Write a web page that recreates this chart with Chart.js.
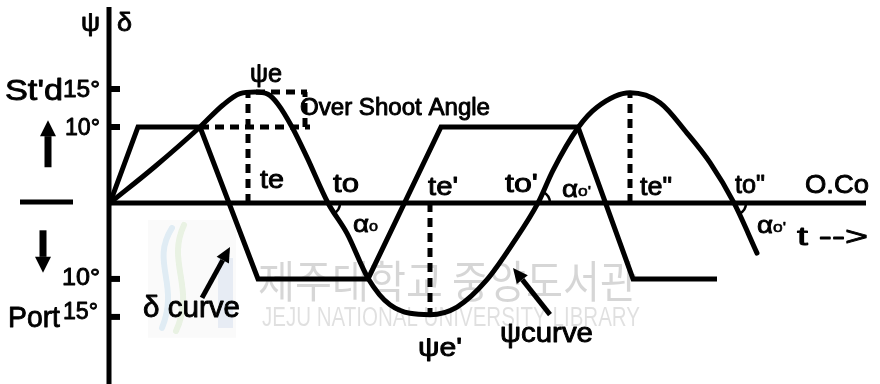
<!DOCTYPE html>
<html>
<head>
<meta charset="utf-8">
<title>Zig-zag test</title>
<script src="https://cdn.jsdelivr.net/npm/chart.js@4.4.1/dist/chart.umd.min.js"></script>
<style>
  html, body { margin: 0; padding: 0; background: #fff; }
  #wrap { width: 880px; height: 384px; }
</style>
</head>
<body>
<div id="wrap"><canvas id="zigzag"></canvas></div>
<script>
// rudder angle δ (deg) against time
var rudderT   = [0, 2.8, 9.0, 14.8, 25.8, 33.1, 46.8, 52.3, 60.7];
var rudderDeg = [0, 10, 10, -10, -10, 10, 10, -10, -10];

// heading ψ (deg) against time
var headingT   = [0, 4.5, 9.0, 11.3, 13.0, 14.5, 15.8, 16.8, 18.2, 19.7, 21.8, 23.7, 25.8, 28.0,
                  32.0, 34.7, 37.7, 40.3, 42.8, 44.3, 46.8, 48.7, 52.0, 55.0, 57.7, 60.0, 62.4, 64.7];
var headingDeg = [0, 4.8, 10.0, 12.9, 14.4, 14.6, 14.3, 13.0, 10.0, 6.0, 0, -4.0, -9.9, -13.4,
                  -14.7, -13.7, -10.1, -5.3, 0, 4.3, 9.9, 12.6, 14.5, 13.2, 9.2, 5.3, 0, -6.6];

// te, te', te'' and the heading reached there
var execT   = [13.8, 32.0, 52.0];
var execDeg = [14.6, -14.7, 14.5];

// to, to', to'' (heading back through the original course)
var crossT = [21.8, 42.8, 62.4];

// first overshoot: rudder setting vs. heading peak
var overshootT   = [9.0, 19.7];
var overshootDeg = [10, 14.6];

var tickDeg    = [15, 10, -10, -15];
var tickLabels = ['15°', '10°', '10°', '15°'];

function pts(xs, ys) {
  return xs.map(function(x, i) { return {x: x, y: ys[i]}; });
}

var FONT = '"Liberation Sans", Arial, Helvetica, sans-serif';

// text fitted to a given width, slightly heavier than the regular face
function label(ctx, str, x, y, size, width) {
  ctx.save();
  ctx.font = size + 'px ' + FONT;
  ctx.textBaseline = 'alphabetic';
  ctx.fillStyle = '#000';
  ctx.strokeStyle = '#000';
  ctx.lineWidth = size > 20 ? 0.9 : 0.6;
  ctx.lineJoin = 'round';
  var w = ctx.measureText(str).width;
  ctx.translate(x, y);
  if (width) ctx.scale(width / w, 1);
  ctx.fillText(str, 0, 0);
  ctx.strokeText(str, 0, 0);
  ctx.restore();
}

function alpha0(ctx, x, y, prime) {
  label(ctx, 'α', x, y, 24, 16);
  label(ctx, 'o' + (prime ? "'" : ''), x + 16, y - 1, 15, prime ? 13 : 9);
}

function arrow(ctx, x0, y0, x1, y1, w, headLen, headHalf) {
  var a = Math.atan2(y1 - y0, x1 - x0);
  var bx = x1 - Math.cos(a) * headLen, by = y1 - Math.sin(a) * headLen;
  ctx.save();
  ctx.strokeStyle = '#000';
  ctx.fillStyle = '#000';
  ctx.lineWidth = w;
  ctx.beginPath();
  ctx.moveTo(x0, y0);
  ctx.lineTo(bx, by);
  ctx.stroke();
  ctx.beginPath();
  ctx.moveTo(x1, y1);
  ctx.lineTo(bx + Math.sin(a) * headHalf, by - Math.cos(a) * headHalf);
  ctx.lineTo(bx - Math.sin(a) * headHalf, by + Math.cos(a) * headHalf);
  ctx.closePath();
  ctx.fill();
  ctx.restore();
}

var decor = {
  id: 'decor',
  beforeDatasetsDraw: function(chart) {
    var ctx = chart.ctx, xs = chart.scales.x, ys = chart.scales.y;
    var x0 = xs.left, y0 = ys.getPixelForValue(0);

    // library watermark
    ctx.save();
    ctx.fillStyle = 'rgba(0,0,0,0.02)';
    ctx.fillRect(x0 + 38, y0 + 17, 88, 118);
    ctx.lineCap = 'round';
    ctx.lineWidth = 6;
    ctx.strokeStyle = 'rgba(120,180,220,0.2)';
    ctx.beginPath();
    ctx.moveTo(x0 + 62, y0 + 25);
    ctx.bezierCurveTo(x0 + 40, y0 + 60, x0 + 70, y0 + 80, x0 + 52, y0 + 125);
    ctx.stroke();
    ctx.strokeStyle = 'rgba(170,210,140,0.22)';
    ctx.beginPath();
    ctx.moveTo(x0 + 74, y0 + 22);
    ctx.bezierCurveTo(x0 + 56, y0 + 60, x0 + 86, y0 + 85, x0 + 66, y0 + 128);
    ctx.stroke();
    ctx.fillStyle = 'rgba(130,160,210,0.16)';
    ctx.fillRect(x0 + 108, y0 + 55, 15, 70);
    ctx.fillStyle = 'rgba(0,0,0,0.16)';
    ctx.font = '44px "Noto Sans CJK KR", sans-serif';
    var kr = '제주대학교 중앙도서관';
    var kw = ctx.measureText(kr).width;
    ctx.translate(x0 + 148, y0 + 95);
    ctx.scale(379 / kw, 1);
    ctx.fillText(kr, 0, 0);
    ctx.restore();
    ctx.save();
    ctx.fillStyle = 'rgba(0,0,0,0.12)';
    ctx.font = '27px ' + FONT;
    var en = 'JEJU NATIONAL UNIVERSITY LIBRARY';
    var ew = ctx.measureText(en).width;
    ctx.translate(x0 + 152, y0 + 123);
    ctx.scale(378 / ew, 1);
    ctx.fillText(en, 0, 0);
    ctx.restore();

    // axes
    ctx.save();
    ctx.strokeStyle = '#000';
    ctx.lineWidth = 5;
    ctx.beginPath();
    ctx.moveTo(x0 - 1, ys.top - 3);
    ctx.lineTo(x0 - 1, ys.bottom + 2);
    ctx.moveTo(x0, y0);
    ctx.lineTo(xs.right, y0);
    ctx.stroke();
    // tick marks
    ctx.lineWidth = 6;
    tickDeg.forEach(function(v) {
      var py = ys.getPixelForValue(v);
      ctx.beginPath();
      ctx.moveTo(x0, py);
      ctx.lineTo(x0 + 10, py);
      ctx.stroke();
    });
    // the neutral dash left of the axis
    ctx.lineWidth = 5;
    ctx.beginPath();
    ctx.moveTo(x0 - 90, y0 - 1);
    ctx.lineTo(x0 - 37, y0 - 1);
    ctx.stroke();
    ctx.restore();
  },
  afterDatasetsDraw: function(chart) {
    var ctx = chart.ctx, xs = chart.scales.x, ys = chart.scales.y;
    var x0 = xs.left, y0 = ys.getPixelForValue(0);
    function P(t, d) { return {x: xs.getPixelForValue(t), y: ys.getPixelForValue(d)}; }
    function at(str, t, d, size, width) {
      var p = P(t, d);
      label(ctx, str, p.x, p.y, size, width);
    }

    // axis titles
    label(ctx, 'ψ', x0 - 29, ys.getPixelForValue(22.6), 26, 19);
    label(ctx, 'δ', x0 + 7, ys.getPixelForValue(22.6), 26, 15);

    // scale labels
    var offs = [8, 8, 6, 2];
    var lefts = [-47, -45, -48, -47];
    var widths = [37, 35, 38, 35];
    tickDeg.forEach(function(v, i) {
      label(ctx, tickLabels[i], x0 + lefts[i], ys.getPixelForValue(v) + offs[i], 24, widths[i]);
    });
    label(ctx, "St'd", x0 - 105, ys.getPixelForValue(15) + 11, 30, 58);
    label(ctx, 'Port', x0 - 102, ys.getPixelForValue(-15) + 10, 30, 52);

    // starboard / port arrows
    arrow(ctx, x0 - 62, ys.getPixelForValue(4.7), x0 - 62, ys.getPixelForValue(10.9), 7, 16, 8);
    arrow(ctx, x0 - 67, ys.getPixelForValue(-3.6), x0 - 67, ys.getPixelForValue(-9.2), 7, 16, 8);

    // event labels
    at('ψe', 14.0, 15.9, 25, 32);
    at('Over Shoot Angle', 19.0, 11.6, 23, 190);
    at('te', 15.0, 2.0, 26, 24);
    at('to', 22.3, 1.45, 26, 26);
    at("te'", 31.8, 1.05, 26, 30);
    at("to'", 39.5, 1.45, 26, 33);
    at('te"', 53.0, 1.05, 26, 32);
    at('to"', 62.5, 1.3, 26, 30);
    at('O.Co', 69.5, 1.3, 26, 64);
    at('t -->', 68.7, -5.5, 26, 71);
    at('δ curve', 3.3, -15.0, 29, 97);
    at('ψcurve', 39.0, -18.3, 28, 93);
    at("ψe'", 30.8, -20.1, 26, 44);

    // crossing angles αo
    var a1 = P(24.3, -3.8), a2 = P(45.2, 0.8), a3 = P(64.7, -3.95);
    alpha0(ctx, a1.x, a1.y, false);
    alpha0(ctx, a2.x, a2.y, true);
    alpha0(ctx, a3.x, a3.y, true);
    ctx.save();
    ctx.strokeStyle = '#000';
    ctx.lineWidth = 2.5;
    [[crossT[0], 0, 1.08], [crossT[1], -1.07, 0], [crossT[2], 0, 1.08]].forEach(function(c) {
      ctx.beginPath();
      ctx.arc(xs.getPixelForValue(c[0]), y0, 12, c[1], c[2]);
      ctx.stroke();
    });
    ctx.restore();

    // pointers to the two curves
    var d0 = P(9.2, -12.5), d1 = P(12.0, -5.8);
    arrow(ctx, d0.x, d0.y, d1.x, d1.y, 5, 15, 7);
    var p0 = P(44.0, -14.7), p1 = P(40.3, -8.55);
    arrow(ctx, p0.x, p0.y, p1.x, p1.y, 5, 15, 7);
  }
};

function guide(data) {
  return {
    data: data,
    borderColor: '#000',
    borderWidth: 5,
    borderDash: [9, 6],
    borderCapStyle: 'butt',
    pointRadius: 0,
    fill: false,
    tension: 0
  };
}

var datasets = [
  {
    label: 'δ',
    data: pts(rudderT, rudderDeg),
    borderColor: '#000',
    borderWidth: 5,
    borderJoinStyle: 'miter',
    pointRadius: 0,
    fill: false,
    tension: 0
  },
  {
    label: 'ψ',
    data: pts(headingT, headingDeg),
    borderColor: '#000',
    borderWidth: 5,
    borderCapStyle: 'round',
    pointRadius: 0,
    fill: false,
    cubicInterpolationMode: 'monotone'
  }
];
execT.forEach(function(t, i) {
  datasets.push(guide([{x: t, y: 0}, {x: t, y: execDeg[i]}]));
});
datasets.push(guide([{x: overshootT[0], y: overshootDeg[0]}, {x: overshootT[1] + 0.3, y: overshootDeg[0]}]));
datasets.push(guide([{x: 14.6, y: overshootDeg[1]}, {x: overshootT[1], y: overshootDeg[1]}]));
datasets.push(guide([{x: overshootT[1] - 0.2, y: overshootDeg[0]}, {x: overshootT[1] - 0.2, y: overshootDeg[1]}]));

new Chart(document.getElementById('zigzag'), {
  type: 'line',
  data: { datasets: datasets },
  options: {
    responsive: true,
    maintainAspectRatio: false,
    animation: false,
    events: [],
    layout: { padding: { left: 110, right: 14, top: 10, bottom: 1 } },
    scales: {
      x: { type: 'linear', min: 0, max: 75.6, display: false },
      y: { type: 'linear', min: -23.7, max: 25.4, display: false }
    },
    plugins: { legend: { display: false }, tooltip: { enabled: false } }
  },
  plugins: [decor]
});
</script>
</body>
</html>
